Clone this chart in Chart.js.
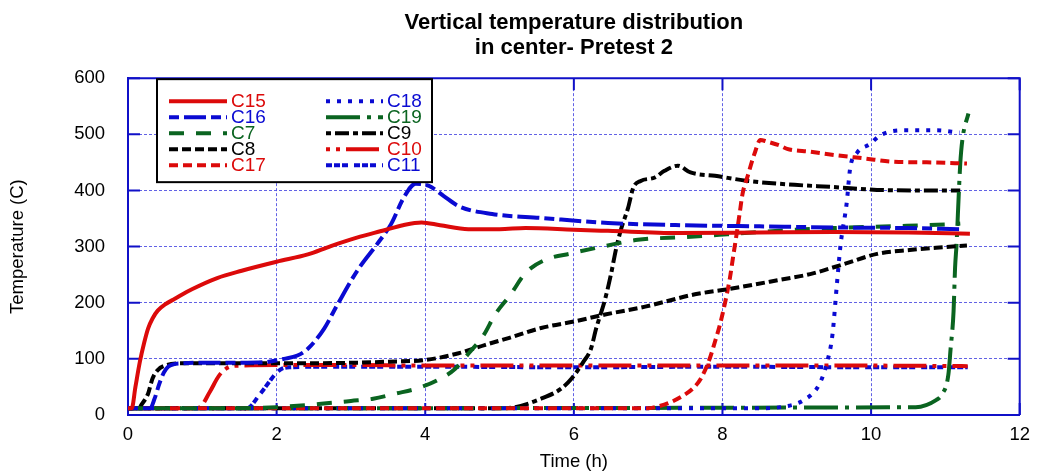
<!DOCTYPE html>
<html>
<head>
<meta charset="utf-8">
<title>Vertical temperature distribution - Pretest 2</title>
<script src="https://cdn.jsdelivr.net/npm/chart.js@4.4.1/dist/chart.umd.min.js"></script>
<style>
    html, body { margin: 0; padding: 0; background: #fff; }
    #wrap { position: relative; width: 1039px; height: 474px; }
</style>
</head>
<body>
<div id="wrap"><canvas id="tempChart" width="1039" height="474"></canvas></div>
<script>
/* =========================
   Vertical temperature distribution
   in center - Pretest 2
========================= */

var chartTitle = ['Vertical temperature distribution', 'in center- Pretest 2'];
var xLabel = 'Time (h)';
var yLabel = 'Temperature (C)';
var xTicks = [0, 2, 4, 6, 8, 10, 12];
var yTicks = [0, 100, 200, 300, 400, 500, 600];

// series: time (h) and temperature (C)
var c15Time = [0, 0.05, 0.1, 0.16, 0.22, 0.27, 0.33, 0.4, 0.5, 0.63, 0.86, 1.2, 1.53, 2.0, 2.42, 2.73, 3.08, 3.45, 3.7, 3.95, 4.2, 4.58, 5.0, 5.35, 6.0, 6.46, 7.4, 8.5, 9.5, 10.5, 11.33];
var c15Temp = [12, 12, 50, 95, 130, 154, 172, 186, 197, 207, 224, 244, 257, 273, 286, 301, 316, 329, 338, 343, 338, 331, 331, 333, 330, 328, 324, 325, 326, 325, 323];

var c16Time = [0, 0.3, 0.36, 0.42, 0.48, 0.54, 0.7, 1.0, 1.5, 1.84, 2.1, 2.28, 2.42, 2.64, 2.82, 3.08, 3.35, 3.54, 3.71, 3.87, 4.05, 4.25, 4.45, 4.9, 5.56, 6.46, 7.5, 8.5, 9.5, 10.5, 11.2];
var c16Temp = [12, 12, 30, 55, 75, 86, 92, 93, 93, 94, 100, 106, 118, 154, 197, 256, 304, 340, 387, 412, 408, 390, 372, 358, 351, 342, 338, 336, 334, 333, 331];

var c7Time = [0, 1.0, 2.0, 2.6, 3.0, 3.3, 3.6, 3.91, 4.18, 4.4, 4.58, 4.79, 4.94, 5.15, 5.35, 5.61, 5.97, 6.42, 6.86, 7.49, 8.07, 8.87, 9.5, 10.48, 11.1, 11.2];
var c7Temp = [12, 12, 14, 20, 25, 29, 38, 48, 63, 82, 109, 143, 179, 215, 253, 276, 288, 301, 312, 317, 322, 329, 333, 337, 340, 341];

var c8Time = [0, 0.15, 0.18, 0.27, 0.33, 0.4, 0.52, 0.7, 1.0, 2.0, 3.0, 3.5, 4.0, 4.45, 4.81, 5.12, 5.56, 6.02, 6.42, 6.96, 7.63, 8.07, 8.74, 9.18, 9.64, 10.08, 10.52, 10.98, 11.29];
var c8Temp = [12, 12, 18, 38, 65, 80, 89, 92, 92, 92, 93, 95, 98, 110, 125, 137, 155, 167, 179, 193, 215, 224, 240, 251, 269, 287, 294, 299, 302];

var c17Time = [0, 7.0, 7.09, 7.27, 7.49, 7.6, 7.71, 7.83, 7.9, 7.96, 8.03, 8.1, 8.14, 8.19, 8.23, 8.27, 8.34, 8.43, 8.51, 8.6, 8.77, 8.87, 9.18, 9.45, 9.91, 10.31, 10.75, 11.29];
var c17Temp = [12, 12, 14, 21, 36, 47, 65, 101, 131, 158, 197, 244, 279, 322, 358, 394, 426, 465, 490, 487, 480, 474, 469, 464, 457, 451, 450, 448];

var c18Time = [0, 8.5, 8.78, 9.1, 9.3, 9.41, 9.48, 9.54, 9.59, 9.67, 9.72, 9.81, 9.99, 10.12, 10.42, 10.88, 11.19];
var c18Temp = [12, 12, 14, 27, 54, 95, 143, 233, 304, 376, 441, 467, 483, 498, 507, 507, 503];

var c19Time = [0, 10.6, 10.88, 10.95, 11.04, 11.07, 11.11, 11.13, 11.15, 11.18, 11.2, 11.23, 11.31];
var c19Temp = [12, 14, 27, 36, 72, 118, 185, 262, 304, 394, 448, 492, 537];

var c9Time = [0, 5.0, 5.21, 5.56, 5.83, 5.97, 6.13, 6.23, 6.3, 6.42, 6.5, 6.57, 6.64, 6.73, 6.8, 6.9, 7.09, 7.22, 7.4, 7.57, 7.9, 8.34, 8.97, 9.5, 10.08, 10.6, 11.2];
var c9Temp = [12, 12, 14, 29, 47, 65, 95, 118, 154, 206, 251, 297, 333, 369, 405, 417, 423, 435, 444, 432, 426, 417, 410, 406, 401, 400, 400];

var c10Time = [0, 0.9, 0.97, 1.1, 1.23, 1.37, 1.5, 2, 3, 4, 6, 8, 10, 11.3];
var c10Temp = [12, 12, 14, 41, 71, 86, 88, 89, 89, 88, 88, 88, 88, 87];

var c11Time = [0, 1.55, 1.59, 1.77, 1.9, 1.99, 2.08, 2.2, 2.5, 3, 4, 6, 8, 10, 11.3];
var c11Temp = [12, 12, 11, 36, 59, 74, 83, 85, 86, 86, 86, 85, 86, 85, 85];

var RED = '#dc0a0a', BLUE = '#0a0ad2', GREEN = '#0a6420', BLACK = '#000000';
var AXIS = '#1010c8', GRID = 'rgba(70,70,225,0.85)';
var FONT = '"Liberation Sans", Arial, Helvetica, sans-serif';

// helper: zip time/temp arrays into points
function pts(t, v) {
    return t.map(function (x, i) { return { x: x, y: v[i] }; });
}

function series(label, t, v, color, dash) {
    return {
        label: label,
        data: pts(t, v),
        borderColor: color,
        backgroundColor: color,
        borderWidth: 4,
        borderDash: dash,
        borderCapStyle: 'butt',
        pointRadius: 0,
        pointHoverRadius: 0,
        cubicInterpolationMode: 'monotone',
        fill: false
    };
}

var datasets = [
    series('C15', c15Time, c15Temp, RED,   []),
    series('C16', c16Time, c16Temp, BLUE,  [10, 5, 22, 5]),
    series('C7',  c7Time,  c7Temp,  GREEN, [15, 12]),
    series('C8',  c8Time,  c8Temp,  BLACK, [9, 4]),
    series('C17', c17Time, c17Temp, RED,   [9, 5]),
    series('C18', c18Time, c18Temp, BLUE,  [4, 7]),
    series('C19', c19Time, c19Temp, GREEN, [34, 7, 4, 7]),
    series('C9',  c9Time,  c9Temp,  BLACK, [5, 4, 14, 4]),
    series('C10', c10Time, c10Temp, RED,   [4, 6, 4, 6, 33, 6]),
    series('C11', c11Time, c11Temp, BLUE,  [6, 2, 6, 2, 6, 6])
];

/* ── frame: solid box + inner tick stubs ── */
var framePlugin = {
    id: 'frame',
    beforeDatasetsDraw: function (chart) {
        var a = chart.chartArea, ctx = chart.ctx;
        var xs = chart.scales.x, ys = chart.scales.y;
        ctx.save();
        ctx.strokeStyle = AXIS;
        ctx.lineWidth = 2;
        ctx.beginPath();
        ctx.moveTo(a.left, a.top);
        ctx.lineTo(a.right, a.top);
        ctx.lineTo(a.right, a.bottom);
        ctx.stroke();
        ctx.beginPath();
        yTicks.forEach(function (v) {
            var y = ys.getPixelForValue(v);
            ctx.moveTo(a.left, y); ctx.lineTo(a.left + 12, y);
            ctx.moveTo(a.right - 12, y); ctx.lineTo(a.right, y);
        });
        xTicks.forEach(function (v) {
            var x = xs.getPixelForValue(v);
            ctx.moveTo(x, a.bottom); ctx.lineTo(x, a.bottom - 12);
            ctx.moveTo(x, a.top); ctx.lineTo(x, a.top + 12);
        });
        ctx.stroke();
        ctx.restore();
    }
};

/* ── legend box, two columns, inside the plot ── */
var legendPlugin = {
    id: 'boxLegend',
    afterDraw: function (chart) {
        var a = chart.chartArea, ctx = chart.ctx;
        var bx = a.left + 29, by = a.top + 1, bw = 275, bh = 103;
        var rowY = [22, 38, 54, 70, 86];
        var cols = [
            { x0: 12, x1: 70, tx: 74 },
            { x0: 169, x1: 226, tx: 230 }
        ];
        ctx.save();
        ctx.fillStyle = '#fff';
        ctx.fillRect(bx, by, bw, bh);
        ctx.strokeStyle = '#000';
        ctx.lineWidth = 2;
        ctx.strokeRect(bx, by, bw, bh);
        ctx.font = '19px ' + FONT;
        ctx.textBaseline = 'middle';
        ctx.textAlign = 'left';
        chart.data.datasets.forEach(function (ds, i) {
            var col = cols[i < 5 ? 0 : 1];
            var y = by + rowY[i % 5];
            ctx.strokeStyle = ds.borderColor;
            ctx.lineWidth = 4;
            ctx.lineCap = 'butt';
            ctx.setLineDash(ds.borderDash);
            ctx.beginPath();
            ctx.moveTo(bx + col.x0, y);
            ctx.lineTo(bx + col.x1, y);
            ctx.stroke();
            ctx.setLineDash([]);
            ctx.fillStyle = ds.borderColor;
            ctx.fillText(ds.label, bx + col.tx, y + 1);
        });
        ctx.restore();
    }
};

document.addEventListener('DOMContentLoaded', function () {
    var canvas = document.getElementById('tempChart');
    if (typeof Chart === 'undefined') {
        console.error('Chart.js tidak ditemukan');
        return;
    }
    Chart.defaults.color = '#000';
    Chart.defaults.font.family = FONT;

    new Chart(canvas, {
        type: 'line',
        data: { datasets: datasets },
        options: {
            responsive: false,
            animation: false,
            layout: { padding: { left: 0, right: 12, top: 0, bottom: 0 } },
            plugins: {
                legend: { display: false },
                tooltip: { enabled: false },
                title: {
                    display: true,
                    text: chartTitle,
                    fullSize: false,
                    color: '#000',
                    font: { size: 22, weight: 'bold', lineHeight: 1.14 },
                    padding: { top: 10, bottom: 18 }
                }
            },
            scales: {
                x: {
                    type: 'linear',
                    min: 0,
                    max: 12,
                    afterFit: function (s) { s.height = 59; },
                    afterBuildTicks: function (s) { s.ticks = xTicks.map(function (v) { return { value: v }; }); },
                    grid: { color: GRID, lineWidth: 1, drawTicks: false },
                    border: { display: true, color: AXIS, width: 2, dash: [3, 2] },
                    ticks: { font: { size: 18.5 }, color: '#000', padding: 9, maxRotation: 0 },
                    title: { display: true, text: xLabel, font: { size: 18.5 }, color: '#000', padding: { top: 0, bottom: 1 } }
                },
                y: {
                    min: 0,
                    max: 600,
                    afterFit: function (s) { s.width = 128; },
                    afterBuildTicks: function (s) { s.ticks = yTicks.map(function (v) { return { value: v }; }); },
                    grid: { color: GRID, lineWidth: 1, drawTicks: false },
                    border: { display: true, color: AXIS, width: 2, dash: [3, 2] },
                    ticks: { font: { size: 18.5 }, color: '#000', padding: 23 },
                    title: { display: true, text: yLabel, font: { size: 18.5 }, color: '#000', padding: { top: 7, bottom: 0 } }
                }
            }
        },
        plugins: [framePlugin, legendPlugin]
    });
});
</script>
</body>
</html>
